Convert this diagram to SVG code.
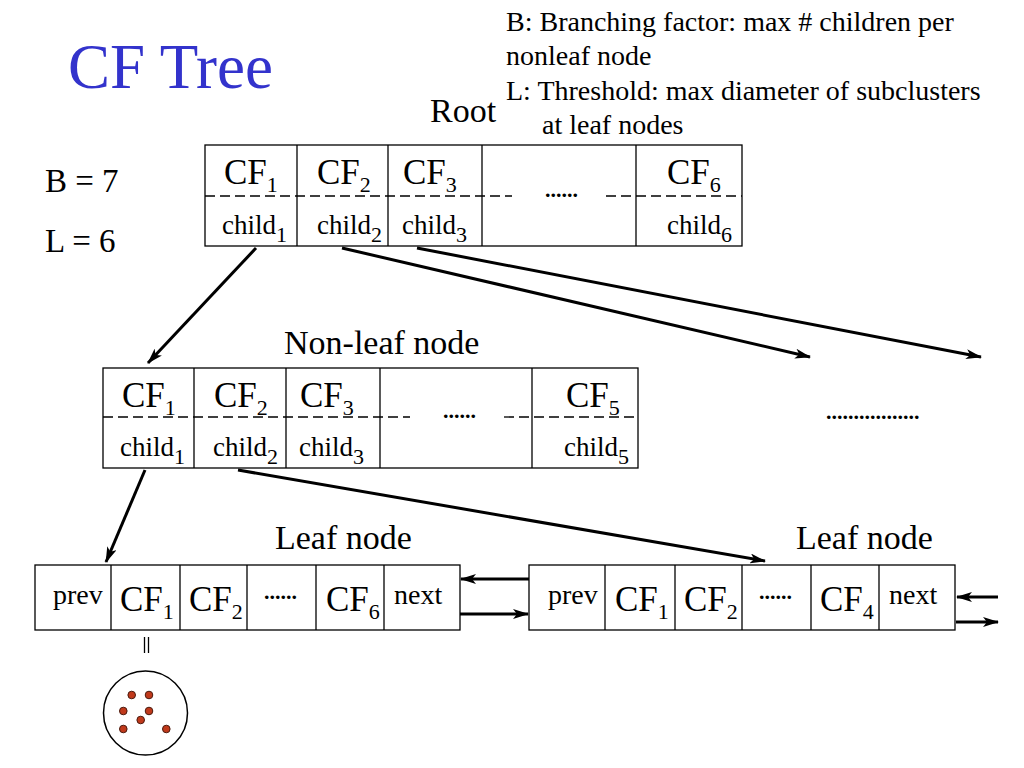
<svg xmlns="http://www.w3.org/2000/svg" width="1024" height="768" viewBox="0 0 1024 768">
<defs>
<marker id="ah" viewBox="0 0 16 10" refX="15" refY="5" markerWidth="16" markerHeight="10" markerUnits="userSpaceOnUse" orient="auto">
<path d="M0,0 L16,5 L0,10 L4,5 Z" fill="#000"/>
</marker>
<style>
text{font-family:"Liberation Serif","Times New Roman",serif;fill:#000}
.box{fill:#fff;stroke:#000;stroke-width:1.3}
.div{stroke:#000;stroke-width:1.3}
.dash{stroke:#000;stroke-width:1.3;stroke-dasharray:10,5;fill:none}
.cf{font-size:35px}
.ch{font-size:27px}
.lf{font-size:28px}
.lbl{font-size:34px}
.sub{font-size:22px}
.subs{font-size:22px}
.dots{font-size:22px;font-weight:bold}
.conn{stroke:#000;stroke-width:3;fill:none;marker-end:url(#ah)}
.pt{fill:#c0391b;stroke:#4a1a0e;stroke-width:1}
</style>
</defs>
<rect width="1024" height="768" fill="#fff"/>

<g id="title">
<text x="68" y="88" style="font-size:63px;fill:#3333cc">CF Tree</text>
</g>
<g id="legend">
<text x="506" y="31" style="font-size:28px">B: Branching factor: max # children per</text>
<text x="506" y="65" style="font-size:28px">nonleaf node</text>
<text x="506" y="100" style="font-size:28px">L: Threshold: max diameter of subclusters</text>
<text x="542" y="134" style="font-size:28px">at leaf nodes</text>
</g>
<g id="params">
<text x="45" y="192" style="font-size:33px">B = 7</text>
<text x="45" y="252" style="font-size:33px">L = 6</text>
</g>

<g id="root">
<text x="430" y="122" class="lbl">Root</text>
<rect class="box" x="205" y="145" width="537" height="101"/>
<line class="div" x1="297" y1="145" x2="297" y2="246"/>
<line class="div" x1="388" y1="145" x2="388" y2="246"/>
<line class="div" x1="482" y1="145" x2="482" y2="246"/>
<line class="div" x1="636" y1="145" x2="636" y2="246"/>
<line class="dash" x1="205" y1="196" x2="512" y2="196"/>
<line class="dash" x1="606" y1="196" x2="742" y2="196"/>
<text x="545" y="197" class="dots">......</text>
<text x="224" y="184" class="cf">CF<tspan class="sub" dy="8">1</tspan></text>
<text x="317" y="184" class="cf">CF<tspan class="sub" dy="8">2</tspan></text>
<text x="403" y="184" class="cf">CF<tspan class="sub" dy="8">3</tspan></text>
<text x="667" y="184" class="cf">CF<tspan class="sub" dy="8">6</tspan></text>
<text x="222" y="234" class="ch">child<tspan class="subs" dy="8">1</tspan></text>
<text x="317" y="234" class="ch">child<tspan class="subs" dy="8">2</tspan></text>
<text x="402" y="234" class="ch">child<tspan class="subs" dy="8">3</tspan></text>
<text x="667" y="234" class="ch">child<tspan class="subs" dy="8">6</tspan></text>
</g>

<g id="nonleaf">
<text x="284" y="354" class="lbl">Non-leaf node</text>
<rect class="box" x="103" y="368" width="535" height="100"/>
<line class="div" x1="194" y1="368" x2="194" y2="468"/>
<line class="div" x1="286" y1="368" x2="286" y2="468"/>
<line class="div" x1="380" y1="368" x2="380" y2="468"/>
<line class="div" x1="532" y1="368" x2="532" y2="468"/>
<line class="dash" x1="103" y1="417" x2="410" y2="417"/>
<line class="dash" x1="504" y1="417" x2="638" y2="417"/>
<text x="443" y="418" class="dots">......</text>
<text x="122" y="407" class="cf">CF<tspan class="sub" dy="8">1</tspan></text>
<text x="214" y="407" class="cf">CF<tspan class="sub" dy="8">2</tspan></text>
<text x="300" y="407" class="cf">CF<tspan class="sub" dy="8">3</tspan></text>
<text x="566" y="407" class="cf">CF<tspan class="sub" dy="8">5</tspan></text>
<text x="120" y="456" class="ch">child<tspan class="subs" dy="8">1</tspan></text>
<text x="213" y="456" class="ch">child<tspan class="subs" dy="8">2</tspan></text>
<text x="299" y="456" class="ch">child<tspan class="subs" dy="8">3</tspan></text>
<text x="564" y="456" class="ch">child<tspan class="subs" dy="8">5</tspan></text>
</g>

<g id="more">
<text x="826" y="419" class="dots">.................</text>
</g>

<g id="leaf1">
<text x="275" y="549" class="lbl">Leaf node</text>
<rect class="box" x="35" y="565" width="425" height="65"/>
<line class="div" x1="111" y1="565" x2="111" y2="630"/>
<line class="div" x1="180" y1="565" x2="180" y2="630"/>
<line class="div" x1="247" y1="565" x2="247" y2="630"/>
<line class="div" x1="316" y1="565" x2="316" y2="630"/>
<line class="div" x1="384" y1="565" x2="384" y2="630"/>
<text x="53" y="604" class="lf">prev</text>
<text x="120" y="611" class="cf">CF<tspan class="sub" dy="8">1</tspan></text>
<text x="189" y="611" class="cf">CF<tspan class="sub" dy="8">2</tspan></text>
<text x="264" y="599" class="dots">......</text>
<text x="326" y="611" class="cf">CF<tspan class="sub" dy="8">6</tspan></text>
<text x="394" y="604" class="lf">next</text>
</g>

<g id="leaf2">
<text x="796" y="549" class="lbl">Leaf node</text>
<rect class="box" x="529" y="565" width="426" height="65"/>
<line class="div" x1="605" y1="565" x2="605" y2="630"/>
<line class="div" x1="675" y1="565" x2="675" y2="630"/>
<line class="div" x1="742" y1="565" x2="742" y2="630"/>
<line class="div" x1="811" y1="565" x2="811" y2="630"/>
<line class="div" x1="879" y1="565" x2="879" y2="630"/>
<text x="548" y="604" class="lf">prev</text>
<text x="615" y="611" class="cf">CF<tspan class="sub" dy="8">1</tspan></text>
<text x="684" y="611" class="cf">CF<tspan class="sub" dy="8">2</tspan></text>
<text x="759" y="599" class="dots">......</text>
<text x="820" y="611" class="cf">CF<tspan class="sub" dy="8">4</tspan></text>
<text x="889" y="604" class="lf">next</text>
</g>

<g id="subcluster">
<line x1="144.5" y1="637" x2="144.5" y2="653" stroke="#000" stroke-width="1.3"/>
<line x1="148.5" y1="637" x2="148.5" y2="653" stroke="#000" stroke-width="1.3"/>
<circle cx="145.5" cy="713" r="42" fill="none" stroke="#000" stroke-width="1.5"/>
<circle class="pt" cx="131.7" cy="695" r="3.8"/>
<circle class="pt" cx="149" cy="695" r="3.8"/>
<circle class="pt" cx="123.3" cy="711" r="3.8"/>
<circle class="pt" cx="149" cy="711" r="3.8"/>
<circle class="pt" cx="140.7" cy="720" r="3.8"/>
<circle class="pt" cx="123.3" cy="729" r="3.8"/>
<circle class="pt" cx="166.3" cy="729" r="3.8"/>
</g>

<g id="connectors">
<line class="conn" x1="256" y1="248" x2="148" y2="363"/>
<line class="conn" x1="342" y1="248" x2="810" y2="357"/>
<line class="conn" x1="417" y1="248" x2="981" y2="357"/>
<line class="conn" x1="145" y1="470" x2="106" y2="562"/>
<line class="conn" x1="238" y1="470" x2="765" y2="561"/>
<line class="conn" x1="529" y1="579" x2="461" y2="579"/>
<line class="conn" x1="460" y1="614" x2="528" y2="614"/>
<line class="conn" x1="998" y1="597" x2="957" y2="597"/>
<line class="conn" x1="956" y1="622" x2="998" y2="622"/>
</g>
</svg>
